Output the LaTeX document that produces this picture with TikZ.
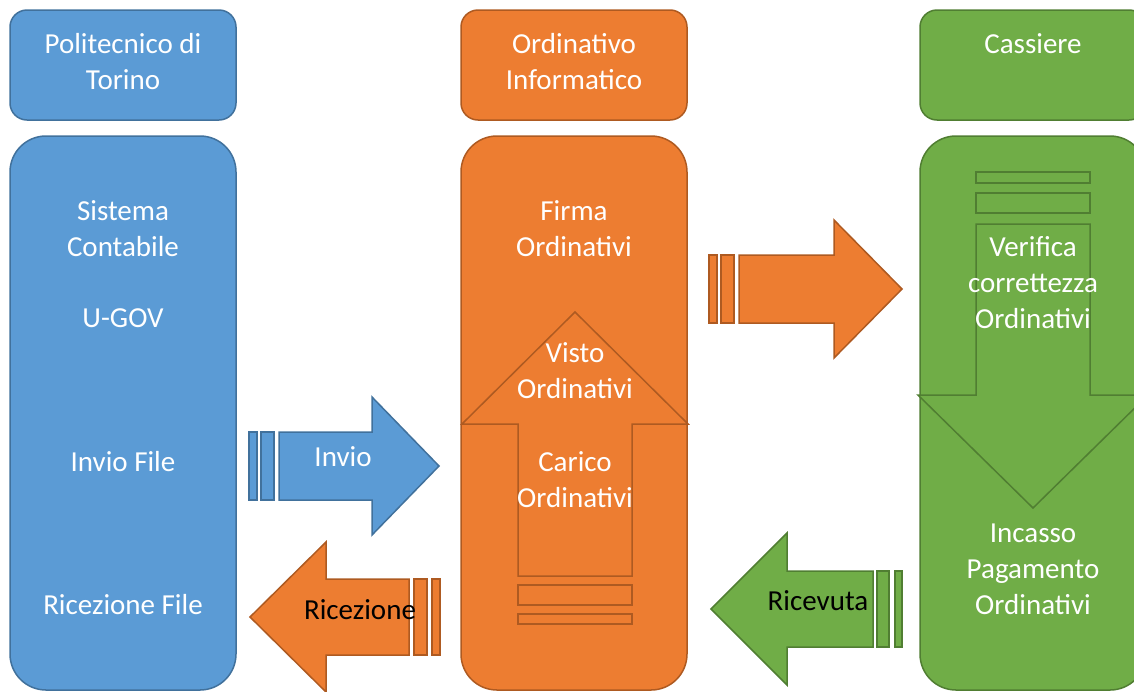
\documentclass[tikz,border=0pt]{standalone}
\usepackage{fontspec}
\setmainfont{Carlito}

\definecolor{bluefill}{HTML}{5B9BD5}
\definecolor{blueline}{HTML}{41719C}
\definecolor{orangefill}{HTML}{ED7D31}
\definecolor{orangeline}{HTML}{AE5A21}
\definecolor{greenfill}{HTML}{70AD47}
\definecolor{greenline}{HTML}{507E32}

\tikzset{
    bluebox/.style={fill=bluefill, draw=blueline, line width=1.5pt},
    orangebox/.style={fill=orangefill, draw=orangeline, line width=1.5pt},
    greenbox/.style={fill=greenfill, draw=greenline, line width=1.5pt},
    headbox/.style={rounded corners=17pt},
    bodybox/.style={rounded corners=36pt},
    whitetext/.style={text=white, align=center, font=\fontsize{29}{36}\selectfont},
    blacktext/.style={text=black, align=center, font=\fontsize{29}{36}\selectfont},
}

\begin{document}
\begin{tikzpicture}[x=1pt, y=-1pt]
        \useasboundingbox (0, 0) rectangle (1134, 691);
        \clip (0, 0) rectangle (1134, 691);

        % columns
        \draw[bluebox, headbox] (10, 10) rectangle (236, 120);
        \draw[bluebox, bodybox] (10, 136) rectangle (236, 690);
        \draw[orangebox, headbox] (461, 10) rectangle (687, 120);
        \draw[orangebox, bodybox] (461, 136) rectangle (687, 690);
        \draw[greenbox, headbox] (920, 10) rectangle (1146, 120);
        \draw[greenbox, bodybox] (920, 136) rectangle (1146, 690);

        % up arrow in the orange column
        \draw[orangebox] (518, 576) -- (518, 424) -- (462, 424) -- (575, 312)
            -- (688, 424) -- (632, 424) -- (632, 576) -- cycle;
        \draw[orangebox] (518, 585) rectangle (632, 605);
        \draw[orangebox] (518, 614) rectangle (632, 624);

        % down arrow in the green column
        \draw[greenbox] (976, 224) -- (976, 395) -- (918, 395) -- (1033, 508)
            -- (1148, 395) -- (1090, 395) -- (1090, 224) -- cycle;
        \draw[greenbox] (976, 193) rectangle (1090, 213);
        \draw[greenbox] (976, 172) rectangle (1090, 183);

        % invio
        \draw[bluebox] (249, 432) rectangle (257, 500);
        \draw[bluebox] (261, 432) rectangle (274, 500);
        \draw[bluebox] (279, 432) -- (372, 432) -- (372, 397) -- (439, 466)
            -- (372, 535) -- (372, 500) -- (279, 500) -- cycle;

        % ricezione
        \draw[orangebox] (432, 579) rectangle (440, 655);
        \draw[orangebox] (414, 579) rectangle (427, 655);
        \draw[orangebox] (409, 579) -- (326, 579) -- (326, 542) -- (250, 617)
            -- (326, 692) -- (326, 655) -- (409, 655) -- cycle;

        % verso il cassiere
        \draw[orangebox] (709, 255) rectangle (717, 323);
        \draw[orangebox] (721, 255) rectangle (734, 323);
        \draw[orangebox] (739, 255) -- (834, 255) -- (834, 220) -- (902, 289)
            -- (834, 358) -- (834, 323) -- (739, 323) -- cycle;

        % ricevuta
        \draw[greenbox] (895, 571) rectangle (902, 647);
        \draw[greenbox] (877, 571) rectangle (889, 647);
        \draw[greenbox] (873, 571) -- (787, 571) -- (787, 533) -- (711, 609)
            -- (787, 685) -- (787, 647) -- (873, 647) -- cycle;

        % texts
        \node[whitetext] (polito) at (123, 62) {Politecnico di\\Torino};
        \node[whitetext] (sistema) at (123, 229) {Sistema\\Contabile};
        \node[whitetext] (ugov) at (123, 318) {U-GOV};
        \node[whitetext] (inviofile) at (123, 462) {Invio File};
        \node[whitetext] (ricezionefile) at (123, 605) {Ricezione File};

        \node[whitetext] (ordinativo) at (574, 62) {Ordinativo\\Informatico};
        \node[whitetext] (firma) at (574, 229) {Firma\\Ordinativi};
        \node[whitetext] (visto) at (575, 371) {Visto\\Ordinativi};
        \node[whitetext] (carico) at (575, 480) {Carico\\Ordinativi};

        \node[whitetext] (cassiere) at (1033, 44) {Cassiere};
        \node[whitetext] (verifica) at (1033, 283) {Verifica\\correttezza\\Ordinativi};
        \node[whitetext] (incasso) at (1033, 569) {Incasso\\Pagamento\\Ordinativi};

        \node[whitetext] (invio) at (343, 457) {Invio};
        \node[blacktext] (ricezione) at (360, 610) {Ricezione};
        \node[blacktext] (ricevuta) at (818, 601) {Ricevuta};
\end{tikzpicture}
\end{document}
